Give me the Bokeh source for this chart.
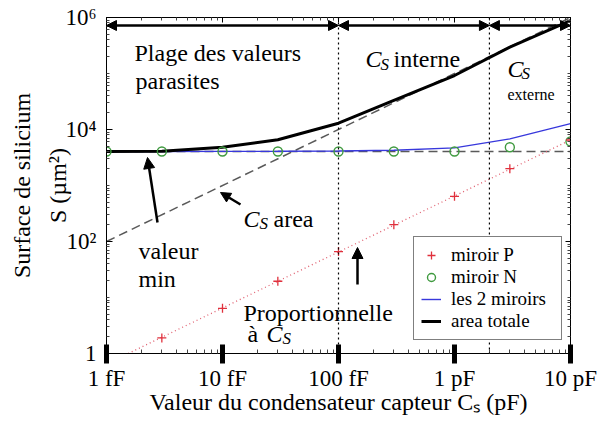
import math
from bokeh.plotting import figure
from bokeh.models import (Range1d, FixedTicker, LogAxis, Label, Arrow, NormalHead,
                          Span, Legend, LegendItem)
from bokeh.embed import file_html
from bokeh.resources import INLINE

# ---------------- data (capacitance in pF, area in µm²) ----------------
cs_pf = [0.001, 0.003, 0.01, 0.03, 0.1, 0.3, 1.0, 3.0, 10.0]
miroir_p_cs = [0.003, 0.01, 0.03, 0.1, 0.3, 1.0, 3.0, 10.0]
miroir_p = [1.9, 6.4, 19.5, 66, 200, 640, 2000, 6500]
miroir_n = [4050, 4050, 4050, 4050, 4050, 4050, 4050, 4830, 6100]
les_2_miroirs = [4050, 4050, 4060, 4080, 4130, 4250, 4700, 6800, 12700]
area_totale = [4050, 4100, 4830, 6550, 12950, 33000, 92000, 295000, 884000]
cs_area_cs = [0.001, 10.0]
cs_area = [100, 1000000]
n_level_cs = [0.001, 10.0]
n_level = [4050, 4050]
prop_cs = [0.001, 10.0]
prop_fit = [0.65, 6500]
region_bounds_pf = [0.001, 0.1, 2.0, 10.0]
x_ticks = [0.001, 0.01, 0.1, 1.0, 10.0]
x_tick_labels = ["1 fF", "10 fF", "100 fF", "1 pF", "10 pF"]
y_ticks = [1, 100, 10000, 1000000]
y_tick_labels = ["1", "10²", "10⁴", "10⁶"]
legend_labels = ["miroir P", "miroir N", "les 2 miroirs", "area totale"]
x_title = "Valeur du condensateur capteur Cₛ (pF)"
y_title = "Surface de silicium\nS (µm²)"

FONT = "Liberation Serif"
RED = "#e0303c"
GREEN = "#3f9a3f"
BLUE = "#3838dc"
GRAY = "#5a5a5a"

# page-pixel -> data helpers (frame: x 106..570, y 17..353 on the page)
X0, PXD = 106.0, 116.0
Y0, PYD = 353.0, 56.0


def dx(px):
    return 10 ** ((px - X0) / PXD - 3)


def dy(py):
    return 10 ** ((Y0 - py) / PYD)


minor_x = [k * 10.0 ** e for e in range(-3, 1) for k in range(2, 10)]
minor_y = [k * 10.0 ** e for e in range(0, 6) for k in range(1, 10)
           if not (k == 1 and e % 2 == 0)]

p = figure(width=607, height=422, x_axis_type="log", y_axis_type="log",
           x_range=Range1d(1e-3, 10), y_range=Range1d(1, 1e6),
           output_backend="svg", toolbar_location=None,
           min_border_left=106, min_border_right=37, min_border_top=17,
           min_border_bottom=69)
p.grid.visible = False
p.outline_line_color = "black"
p.outline_line_width = 1
p.background_fill_color = "white"
p.border_fill_color = "white"

xa = p.xaxis[0]
xa.ticker = FixedTicker(ticks=x_ticks, minor_ticks=minor_x)
xa.major_label_overrides = dict(zip(x_ticks, x_tick_labels))
xa.major_label_text_font = FONT
xa.major_label_text_font_size = "23px"
xa.major_label_text_color = "black"
xa.major_tick_line_width = 5
xa.major_tick_line_color = "black"
xa.major_tick_in = 9
xa.major_tick_out = 10
xa.minor_tick_in = 4
xa.minor_tick_out = 0
xa.minor_tick_line_color = "#444444"
xa.axis_line_color = "black"
xa.major_label_standoff = 2
xa.axis_label = x_title
xa.axis_label_text_font = FONT
xa.axis_label_text_font_size = "24px"
xa.axis_label_text_font_style = "normal"
xa.axis_label_text_color = "black"
xa.axis_label_standoff = -5

ya = p.yaxis[0]
ya.ticker = FixedTicker(ticks=y_ticks, minor_ticks=minor_y)
ya.major_label_overrides = dict(zip(y_ticks, y_tick_labels))
ya.major_label_text_font = FONT
ya.major_label_text_font_size = "23px"
ya.major_label_text_color = "black"
ya.major_tick_in = 6
ya.major_tick_out = 0
ya.minor_tick_in = 3
ya.minor_tick_out = 0
ya.minor_tick_line_color = "#444444"
ya.axis_line_color = "black"
ya.major_label_standoff = 10
ya.axis_label = y_title
ya.axis_label_text_font = FONT
ya.axis_label_text_font_size = "24px"
ya.axis_label_text_font_style = "normal"
ya.axis_label_text_color = "black"
ya.axis_label_text_line_height = 1.4
ya.axis_label_standoff = -9

top_ax = LogAxis(ticker=FixedTicker(ticks=x_ticks, minor_ticks=minor_x),
                 major_label_text_font_size="1px", major_label_text_alpha=0,
                 major_label_standoff=0,
                 major_tick_in=5, major_tick_out=0, minor_tick_in=3, minor_tick_out=0,
                 minor_tick_line_color="#444444", axis_line_color="black")
right_ax = LogAxis(ticker=FixedTicker(ticks=y_ticks, minor_ticks=minor_y),
                   major_label_text_font_size="1px", major_label_text_alpha=0,
                   major_label_standoff=0,
                   major_tick_in=5, major_tick_out=0, minor_tick_in=3, minor_tick_out=0,
                   minor_tick_line_color="#444444", axis_line_color="black")
p.add_layout(top_ax, "above")
p.add_layout(right_ax, "right")

# ---------------- series ----------------
p.line(cs_area_cs, cs_area, line_color=GRAY, line_dash="9 5", line_width=1.5)
p.line(n_level_cs, n_level, line_color=GRAY, line_dash="9 5", line_width=1.5)
p.line(prop_cs, prop_fit, line_color="#e06070", line_dash="1 3", line_width=1.3)
r_blue = p.line(cs_pf, les_2_miroirs, line_color=BLUE, line_width=1.4)
r_black = p.line(cs_pf, area_totale, line_color="black", line_width=3)
r_n = p.scatter(cs_pf, miroir_n, marker="circle", size=9, fill_color=None,
                line_color=GREEN, line_width=1.4)
r_p = p.scatter(miroir_p_cs, miroir_p, marker="cross", size=9,
                line_color=RED, line_width=1.3)

# ---------------- region separators and arrows ----------------
for b in region_bounds_pf[1:-1]:
    p.add_layout(Span(location=b, dimension="height", line_color="black",
                      line_dash="2 3", line_width=1.2))

y_arrow = dy(25)
for a, b in zip(region_bounds_pf[:-1], region_bounds_pf[1:]):
    p.add_layout(Arrow(x_start=a, y_start=y_arrow, x_end=b, y_end=y_arrow,
                       line_width=2.5, line_color="black",
                       start=NormalHead(size=10, fill_color="black", line_color="black"),
                       end=NormalHead(size=10, fill_color="black", line_color="black")))


def arrow(px0, py0, px1, py1, size=11):
    p.add_layout(Arrow(x_start=dx(px0), y_start=dy(py0), x_end=dx(px1), y_end=dy(py1),
                       line_width=2.5, line_color="black",
                       end=NormalHead(size=size, fill_color="black", line_color="black")))


arrow(157, 222, 147, 157)
arrow(240, 204, 220, 192, size=10)
arrow(357, 284, 357, 247)


def label(text, px, py, size=24, style="normal", angle=0.0):
    p.add_layout(Label(x=dx(px), y=dy(py), text=text, text_font=FONT,
                       text_font_size=f"{size}px", text_font_style=style,
                       text_color="black", text_baseline="alphabetic",
                       text_align="left", angle=angle))


label("Plage des valeurs", 134, 52)
label("parasites", 135, 80)
label("C", 365, 58, style="italic")
label("S", 380, 64, size=17, style="italic")
label("interne", 393, 58)
label("C", 507, 68, style="italic")
label("S", 521, 73, size=17, style="italic")
label("externe", 507, 94, size=16)
label("valeur", 138, 250)
label("min", 138, 278)
label("C", 243, 218, style="italic")
label("S", 259, 223, size=17, style="italic")
label("area", 273, 218)
label("Proportionnelle", 243, 312)
label("à", 247, 333)
label("C", 266, 333, style="italic")
label("S", 282, 338, size=17, style="italic")

# ---------------- legend ----------------
legend = Legend(items=[LegendItem(label=l, renderers=[r]) for l, r in
                       zip(legend_labels, [r_p, r_n, r_blue, r_black])],
                location=(307, 13), label_text_font=FONT, label_text_font_size="19px",
                label_text_color="black", label_standoff=10, label_width=103,
                label_height=20, glyph_width=20, glyph_height=20, spacing=0,
                padding=7, margin=0, border_line_color="black", border_line_width=1,
                background_fill_color="white", background_fill_alpha=1.0)
p.add_layout(legend)

open("out.html", "w").write(file_html(p, INLINE))
